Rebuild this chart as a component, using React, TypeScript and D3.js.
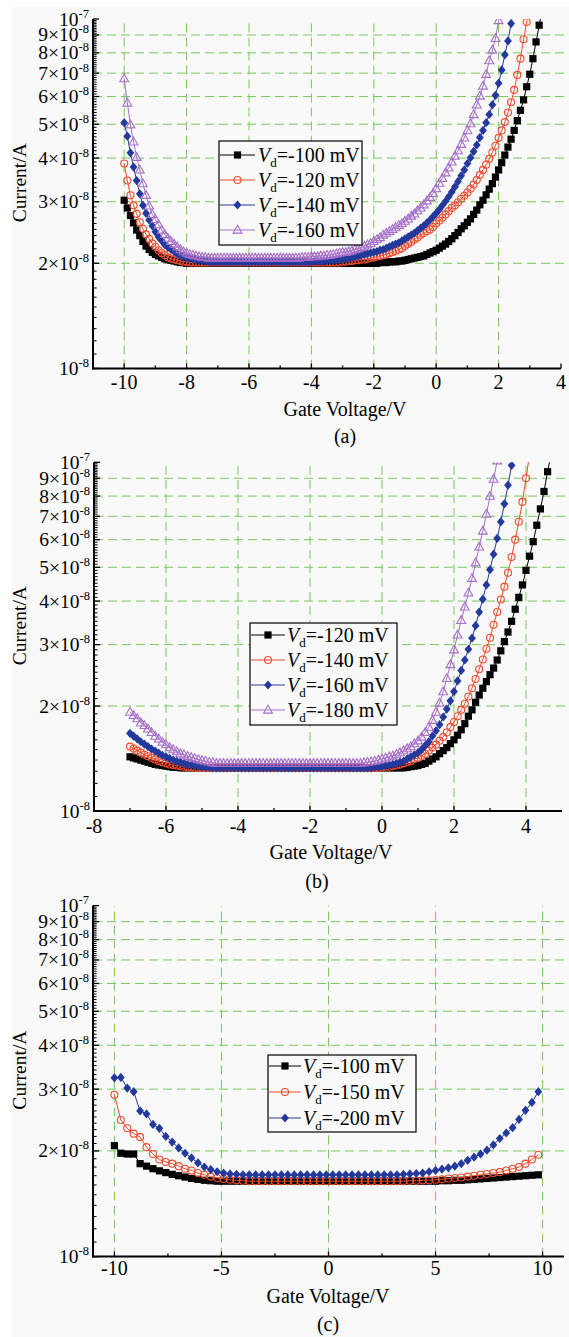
import React from 'react'
import * as d3 from 'd3'

// gate sweeps (V): first point and step of each measurement
const sweepA = { start: -10, step: 0.1 }
const sweepB = { start: -7, step: 0.1 }
const sweepC = { start: -10, step: 0.3 }

// drain current, in units of 1e-8 A
// (a) Vd = -100 / -120 / -140 / -160 mV
const curA100 = [
  3.03, 2.88, 2.74, 2.61, 2.49, 2.40, 2.31, 2.24, 2.19, 2.15,
  2.12, 2.10, 2.08, 2.06, 2.05, 2.04, 2.03, 2.02, 2.01, 2.01,
  2, 2, 2, 2, 2, 2, 2, 2, 2, 2,
  2, 2, 2, 2, 2, 2, 2, 2, 2, 2,
  2, 2, 2, 2, 2, 2, 2, 2, 2, 2,
  2, 2, 2, 2, 2, 2, 2, 2, 2, 2,
  2, 2, 2, 2, 2, 2, 2, 2, 2, 2,
  2, 2, 2, 2, 2, 2, 2, 2, 2, 2,
  2.00, 2.00, 2.01, 2.01, 2.01, 2.02, 2.02, 2.02, 2.03, 2.03,
  2.04, 2.05, 2.06, 2.07, 2.08, 2.09, 2.10, 2.12, 2.14, 2.16,
  2.18, 2.21, 2.24, 2.27, 2.31, 2.35, 2.40, 2.45, 2.51, 2.56,
  2.62, 2.68, 2.76, 2.84, 2.94, 3.03, 3.14, 3.26, 3.38, 3.53,
  3.70, 3.88, 4.08, 4.30, 4.53, 4.80, 5.12, 5.48, 5.87, 6.40,
  6.95, 7.70, 8.60, 9.60, 10.7,
]
const curA120 = [
  3.86, 3.45, 3.13, 2.93, 2.77, 2.62, 2.51, 2.42, 2.35, 2.28,
  2.23, 2.18, 2.14, 2.11, 2.08, 2.06, 2.05, 2.04, 2.03, 2.02,
  2.02, 2.01, 2.01, 2.01, 2.01, 2.01, 2.01, 2.01, 2.01, 2.01,
  2.01, 2.01, 2.01, 2.01, 2.01, 2.01, 2.01, 2.01, 2.01, 2.01,
  2.01, 2.01, 2.01, 2.01, 2.01, 2.01, 2.01, 2.01, 2.01, 2.01,
  2.01, 2.01, 2.01, 2.01, 2.01, 2.01, 2.01, 2.01, 2.01, 2.01,
  2.01, 2.01, 2.01, 2.01, 2.01, 2.01, 2.01, 2.01, 2.01, 2.01,
  2.02, 2.02, 2.03, 2.03, 2.04, 2.04, 2.05, 2.05, 2.06, 2.07,
  2.08, 2.09, 2.10, 2.11, 2.12, 2.14, 2.15, 2.17, 2.19, 2.21,
  2.24, 2.27, 2.30, 2.34, 2.37, 2.41, 2.44, 2.47, 2.50, 2.54,
  2.60, 2.65, 2.70, 2.76, 2.82, 2.88, 2.93, 2.99, 3.06, 3.12,
  3.19, 3.27, 3.36, 3.46, 3.58, 3.70, 3.83, 3.98, 4.15, 4.34,
  4.57, 4.80, 5.07, 5.40, 5.78, 6.27, 6.92, 7.70, 8.75, 9.80,
  11.0,
]
const curA140 = [
  5.05, 4.62, 4.14, 3.77, 3.45, 3.16, 2.93, 2.78, 2.66, 2.56,
  2.46, 2.38, 2.32, 2.26, 2.22, 2.19, 2.16, 2.13, 2.11, 2.09,
  2.08, 2.07, 2.06, 2.05, 2.04, 2.04, 2.03, 2.03, 2.02, 2.02,
  2.02, 2.02, 2.02, 2.02, 2.02, 2.02, 2.02, 2.02, 2.02, 2.02,
  2.02, 2.02, 2.02, 2.02, 2.02, 2.02, 2.02, 2.02, 2.02, 2.02,
  2.02, 2.02, 2.02, 2.02, 2.02, 2.02, 2.02, 2.02, 2.02, 2.02,
  2.02, 2.03, 2.03, 2.03, 2.03, 2.04, 2.04, 2.04, 2.05, 2.05,
  2.06, 2.06, 2.07, 2.08, 2.09, 2.10, 2.11, 2.12, 2.13, 2.14,
  2.15, 2.16, 2.18, 2.19, 2.21, 2.23, 2.25, 2.27, 2.29, 2.32,
  2.35, 2.38, 2.41, 2.44, 2.48, 2.52, 2.56, 2.61, 2.66, 2.72,
  2.78, 2.85, 2.93, 3.01, 3.10, 3.20, 3.31, 3.43, 3.56, 3.70,
  3.86, 4.01, 4.18, 4.36, 4.58, 4.80, 5.05, 5.33, 5.68, 6.05,
  6.55, 7.15, 7.90, 8.65, 9.70, 10.8,
]
const curA160 = [
  6.75, 5.75, 4.98, 4.45, 4.02, 3.70, 3.38, 3.13, 2.92, 2.76,
  2.67, 2.58, 2.49, 2.42, 2.36, 2.31, 2.27, 2.23, 2.19, 2.16,
  2.14, 2.12, 2.11, 2.10, 2.09, 2.08, 2.08, 2.07, 2.07, 2.07,
  2.07, 2.07, 2.07, 2.07, 2.07, 2.07, 2.07, 2.07, 2.07, 2.07,
  2.07, 2.07, 2.07, 2.07, 2.07, 2.07, 2.07, 2.07, 2.07, 2.07,
  2.07, 2.07, 2.07, 2.07, 2.07, 2.07, 2.07, 2.08, 2.08, 2.08,
  2.09, 2.09, 2.09, 2.10, 2.10, 2.11, 2.11, 2.12, 2.13, 2.14,
  2.15, 2.15, 2.16, 2.17, 2.19, 2.20, 2.22, 2.24, 2.26, 2.28,
  2.31, 2.34, 2.37, 2.41, 2.44, 2.47, 2.50, 2.53, 2.57, 2.60,
  2.64, 2.68, 2.73, 2.77, 2.83, 2.88, 2.94, 3.02, 3.09, 3.17,
  3.27, 3.39, 3.50, 3.63, 3.75, 3.90, 4.05, 4.20, 4.38, 4.57,
  4.79, 5.02, 5.33, 5.68, 6.02, 6.43, 6.95, 7.60, 8.15, 8.80,
  9.90, 10.9,
]

// (b) Vd = -120 / -140 / -160 / -180 mV
const curB120 = [
  1.43, 1.42, 1.41, 1.40, 1.39, 1.38, 1.37, 1.36, 1.355, 1.35,
  1.345, 1.34, 1.335, 1.335, 1.33, 1.33, 1.33, 1.33, 1.33, 1.33,
  1.33, 1.33, 1.33, 1.33, 1.33, 1.33, 1.33, 1.33, 1.33, 1.33,
  1.33, 1.33, 1.33, 1.33, 1.33, 1.33, 1.33, 1.33, 1.33, 1.33,
  1.33, 1.33, 1.33, 1.33, 1.33, 1.33, 1.33, 1.33, 1.33, 1.33,
  1.33, 1.33, 1.33, 1.33, 1.33, 1.33, 1.33, 1.33, 1.33, 1.33,
  1.33, 1.33, 1.33, 1.33, 1.33, 1.33, 1.33, 1.33, 1.33, 1.33,
  1.33, 1.33, 1.33, 1.33, 1.33, 1.33, 1.33, 1.335, 1.34, 1.345,
  1.35, 1.36, 1.37, 1.39, 1.41, 1.43, 1.46, 1.49, 1.52, 1.56,
  1.60, 1.65, 1.71, 1.78, 1.87, 1.95, 2.05, 2.15, 2.25, 2.35,
  2.46, 2.57, 2.71, 2.88, 3.06, 3.26, 3.50, 3.79, 4.10, 4.45,
  4.90, 5.38, 5.92, 6.60, 7.35, 8.25, 9.40, 10.6,
]
const curB140 = [
  1.53, 1.51, 1.49, 1.47, 1.45, 1.435, 1.42, 1.405, 1.39, 1.38,
  1.37, 1.36, 1.355, 1.35, 1.345, 1.34, 1.335, 1.335, 1.33, 1.33,
  1.33, 1.33, 1.33, 1.33, 1.33, 1.33, 1.33, 1.33, 1.33, 1.33,
  1.33, 1.33, 1.33, 1.33, 1.33, 1.33, 1.33, 1.33, 1.33, 1.33,
  1.33, 1.33, 1.33, 1.33, 1.33, 1.33, 1.33, 1.33, 1.33, 1.33,
  1.33, 1.33, 1.33, 1.33, 1.33, 1.33, 1.33, 1.33, 1.33, 1.33,
  1.33, 1.33, 1.33, 1.33, 1.33, 1.33, 1.33, 1.33, 1.33, 1.33,
  1.335, 1.34, 1.34, 1.345, 1.35, 1.36, 1.37, 1.38, 1.39, 1.41,
  1.42, 1.44, 1.46, 1.49, 1.52, 1.55, 1.59, 1.63, 1.68, 1.74,
  1.80, 1.87, 1.95, 2.03, 2.13, 2.25, 2.39, 2.55, 2.72, 2.92,
  3.14, 3.42, 3.72, 4.04, 4.40, 4.82, 5.35, 6.00, 6.75, 7.70,
  9.00, 10.5,
]
const curB160 = [
  1.67, 1.64, 1.61, 1.58, 1.555, 1.53, 1.505, 1.485, 1.465, 1.445,
  1.43, 1.415, 1.40, 1.39, 1.38, 1.37, 1.36, 1.355, 1.35, 1.345,
  1.34, 1.335, 1.335, 1.33, 1.33, 1.33, 1.33, 1.33, 1.33, 1.33,
  1.33, 1.33, 1.33, 1.33, 1.33, 1.33, 1.33, 1.33, 1.33, 1.33,
  1.33, 1.33, 1.33, 1.33, 1.33, 1.33, 1.33, 1.33, 1.33, 1.33,
  1.33, 1.33, 1.33, 1.33, 1.33, 1.33, 1.33, 1.33, 1.33, 1.33,
  1.33, 1.33, 1.33, 1.33, 1.33, 1.33, 1.33, 1.33, 1.335, 1.34,
  1.345, 1.35, 1.355, 1.36, 1.37, 1.38, 1.39, 1.41, 1.43, 1.45,
  1.47, 1.50, 1.54, 1.58, 1.64, 1.70, 1.77, 1.86, 1.96, 2.07,
  2.20, 2.36, 2.53, 2.71, 2.91, 3.13, 3.40, 3.72, 4.05, 4.45,
  4.92, 5.45, 6.05, 6.75, 7.60, 8.60, 9.80, 11.0,
]
const curB180 = [
  1.92, 1.88, 1.84, 1.79, 1.76, 1.72, 1.68, 1.64, 1.61, 1.575,
  1.55, 1.52, 1.50, 1.48, 1.46, 1.45, 1.435, 1.425, 1.415, 1.405,
  1.395, 1.39, 1.38, 1.375, 1.37, 1.37, 1.37, 1.37, 1.37, 1.37,
  1.37, 1.37, 1.37, 1.37, 1.37, 1.37, 1.37, 1.37, 1.37, 1.37,
  1.37, 1.37, 1.37, 1.37, 1.37, 1.37, 1.37, 1.37, 1.37, 1.37,
  1.37, 1.37, 1.37, 1.37, 1.37, 1.37, 1.37, 1.37, 1.37, 1.37,
  1.37, 1.37, 1.37, 1.37, 1.37, 1.375, 1.38, 1.385, 1.39, 1.40,
  1.41, 1.42, 1.43, 1.44, 1.455, 1.47, 1.49, 1.51, 1.53, 1.56,
  1.59, 1.63, 1.68, 1.74, 1.82, 1.92, 2.04, 2.20, 2.40, 2.63,
  2.90, 3.20, 3.52, 3.85, 4.22, 4.65, 5.15, 5.72, 6.35, 7.10,
  8.00, 8.95, 10.1, 11.3,
]

// (c) Vd = -100 / -150 / -200 mV
const curC100 = [
  2.07, 1.97, 1.96, 1.96, 1.84, 1.81, 1.78, 1.755, 1.735, 1.715,
  1.70, 1.685, 1.67, 1.66, 1.65, 1.645, 1.64, 1.64, 1.64, 1.64,
  1.64, 1.64, 1.64, 1.64, 1.64, 1.64, 1.64, 1.64, 1.64, 1.64,
  1.64, 1.64, 1.64, 1.64, 1.64, 1.64, 1.64, 1.64, 1.64, 1.64,
  1.64, 1.64, 1.64, 1.64, 1.64, 1.64, 1.64, 1.64, 1.64, 1.64,
  1.64, 1.645, 1.645, 1.65, 1.65, 1.655, 1.66, 1.665, 1.67, 1.675,
  1.68, 1.685, 1.69, 1.695, 1.70, 1.705, 1.71,
]
const curC150 = [
  2.89, 2.45, 2.32, 2.24, 2.19, 2.05, 1.96, 1.89, 1.86, 1.84,
  1.81, 1.78, 1.76, 1.73, 1.71, 1.69, 1.675, 1.665, 1.655, 1.65,
  1.645, 1.64, 1.64, 1.64, 1.64, 1.64, 1.64, 1.64, 1.64, 1.64,
  1.64, 1.64, 1.64, 1.64, 1.64, 1.64, 1.64, 1.64, 1.64, 1.64,
  1.64, 1.64, 1.64, 1.64, 1.64, 1.64, 1.645, 1.645, 1.65, 1.65,
  1.655, 1.66, 1.67, 1.675, 1.68, 1.69, 1.70, 1.71, 1.72, 1.73,
  1.74, 1.76, 1.78, 1.80, 1.84, 1.89, 1.95,
]
const curC200 = [
  3.23, 3.24, 3.02, 2.95, 2.60, 2.55, 2.38, 2.32, 2.20, 2.12,
  2.04, 1.97, 1.91, 1.85, 1.80, 1.77, 1.745, 1.73, 1.72, 1.715,
  1.71, 1.71, 1.71, 1.71, 1.71, 1.71, 1.71, 1.71, 1.71, 1.71,
  1.71, 1.71, 1.71, 1.71, 1.71, 1.71, 1.71, 1.71, 1.71, 1.71,
  1.71, 1.71, 1.71, 1.71, 1.71, 1.715, 1.72, 1.725, 1.73, 1.745,
  1.76, 1.775, 1.79, 1.81, 1.84, 1.88, 1.92, 1.96, 2.01, 2.08,
  2.17, 2.25, 2.33, 2.46, 2.61, 2.75, 2.95,
]

const legendA = ['-100', '-120', '-140', '-160']
const legendB = ['-120', '-140', '-160', '-180']
const legendC = ['-100', '-150', '-200']

const xTicksA = [-10, -8, -6, -4, -2, 0, 2, 4]
const xMinorA = [-9, -7, -5, -3, -1, 1, 3]
const xTicksB = [-8, -6, -4, -2, 0, 2, 4]
const xMinorB = [-7, -5, -3, -1, 1, 3]
const xTicksC = [-10, -5, 0, 5, 10]
const xMinorC = [-7.5, -2.5, 2.5, 7.5]

// y axis (×1e-8 A), labelled at 1..10
const yTicks = [1, 2, 3, 4, 5, 6, 7, 8, 9, 10]
const yMinor = d3.range(11, 100).filter((v) => v % 10 !== 0).map((v) => v / 10)

type Shape = 'square' | 'circle' | 'diamond' | 'triangle'
const colors = ['#000000', '#f04b2d', '#24399c', '#a66ec9']
const shapes: Shape[] = ['square', 'circle', 'diamond', 'triangle']

const FONT = '"Liberation Serif", "Times New Roman", serif'
const GRID = '#76c95b'
const BG = '#f9f9f9'

interface Layout {
  id: string
  left: number
  right: number
  top: number
  bottom: number
  domain: [number, number]
  ticks: number[]
  minor: number[]
  sweep: { start: number; step: number }
  series: number[][]
  labels: string[]
  tickY: number
  titleX: number
  titleY: number
  tag: string
  tagX: number
  tagY: number
  legend: { x: number; y: number; w: number; h: number; rows: number[]; line: [number, number]; textX: number }
}

const panels: Layout[] = [
  {
    id: 'a', left: 93, right: 561, top: 19, bottom: 368.5, domain: [-11, 4],
    ticks: xTicksA, minor: xMinorA, sweep: sweepA,
    series: [curA100, curA120, curA140, curA160], labels: legendA,
    tickY: 389, titleX: 345, titleY: 416, tag: '(a)', tagX: 345, tagY: 443,
    legend: { x: 219, y: 141, w: 143, h: 104, rows: [155, 180, 205, 230], line: [220, 255], textX: 258 },
  },
  {
    id: 'b', left: 94, right: 562, top: 462.3, bottom: 811, domain: [-8, 5],
    ticks: xTicksB, minor: xMinorB, sweep: sweepB,
    series: [curB120, curB140, curB160, curB180], labels: legendB,
    tickY: 833, titleX: 331, titleY: 859, tag: '(b)', tagX: 317, tagY: 888,
    legend: { x: 250, y: 623, w: 147, h: 102, rows: [635, 660, 685, 710], line: [251, 285], textX: 287 },
  },
  {
    id: 'c', left: 93, right: 564, top: 905.6, bottom: 1256.6, domain: [-11, 11],
    ticks: xTicksC, minor: xMinorC, sweep: sweepC,
    series: [curC100, curC150, curC200], labels: legendC,
    tickY: 1275, titleX: 328, titleY: 1303, tag: '(c)', tagX: 328, tagY: 1331,
    legend: { x: 268, y: 1055, w: 148, h: 77, rows: [1066, 1092, 1118], line: [269, 301], textX: 303 },
  },
]

function Marker({ shape, color, cx, cy }: { shape: Shape; color: string; cx: number; cy: number }) {
  if (shape === 'square') return <rect x={cx - 3.6} y={cy - 3.6} width={7.2} height={7.2} fill={color} />
  if (shape === 'circle') return <circle cx={cx} cy={cy} r={3.5} fill="none" stroke={color} strokeWidth={1.1} />
  if (shape === 'diamond')
    return <path d={`M${cx},${cy - 4.6}L${cx + 3.9},${cy}L${cx},${cy + 4.6}L${cx - 3.9},${cy}Z`} fill={color} />
  return (
    <path d={`M${cx},${cy - 4.7}L${cx + 4.4},${cy + 3.1}L${cx - 4.4},${cy + 3.1}Z`} fill="none" stroke={color} strokeWidth={1.1} />
  )
}

function YLabel({ v, x, y }: { v: number; x: number; y: number }) {
  const exp = v === 10 ? '-7' : '-8'
  const mant = v === 1 || v === 10 ? '10' : `${v}×10`
  return (
    <text x={x} y={y + 6.5} textAnchor="end" fontSize={19.5}>
      {mant}
      <tspan fontSize={12.5} dy={-8}>
        {exp}
      </tspan>
    </text>
  )
}

function Panel({ p }: { p: Layout }) {
  const x = d3.scaleLinear().domain(p.domain).range([p.left, p.right])
  const y = d3.scaleLog().domain([1, 10]).range([p.bottom, p.top])
  const line = d3
    .line<[number, number]>()
    .x((d) => x(d[0]))
    .y((d) => y(d[1]))
  const data = p.series.map((vals) => vals.map((v, i) => [p.sweep.start + i * p.sweep.step, v] as [number, number]))
  const clipId = `clip-${p.id}`
  const lg = p.legend

  return (
    <g>
      <defs>
        <clipPath id={clipId}>
          <rect x={p.left} y={p.top} width={p.right - p.left + 4} height={p.bottom - p.top} />
        </clipPath>
      </defs>

      {/* grid */}
      <g stroke={GRID} strokeWidth={1} strokeDasharray="9,5">
        {yTicks
          .filter((v) => v > 1 && v < 10)
          .map((v) => (
            <line key={`h${v}`} x1={p.left} x2={p.right + 5} y1={y(v)} y2={y(v)} />
          ))}
        {p.ticks
          .filter((t) => x(t) > p.left + 1 && x(t) < p.right - 1)
          .map((t) => (
            <line key={`v${t}`} x1={x(t)} x2={x(t)} y1={p.bottom} y2={p.top} />
          ))}
      </g>

      {/* axes */}
      <g stroke="#000">
        <line x1={p.left} x2={p.left} y1={p.bottom + 1} y2={p.top} strokeWidth={2} />
        <line x1={p.left - 1} x2={p.right} y1={p.bottom} y2={p.bottom} strokeWidth={2} />
        {yTicks.map((v) => (
          <line key={`yt${v}`} x1={p.left} x2={p.left + 6} y1={y(v)} y2={y(v)} strokeWidth={1.3} />
        ))}
        {yMinor.map((v) => (
          <line key={`ym${v}`} x1={p.left} x2={p.left + 3.6} y1={y(v)} y2={y(v)} strokeWidth={1} />
        ))}
        {p.ticks.map((t) => (
          <line key={`xt${t}`} x1={x(t)} x2={x(t)} y1={p.bottom} y2={p.bottom - 5} strokeWidth={1.3} />
        ))}
        {p.minor.map((t) => (
          <line key={`xm${t}`} x1={x(t)} x2={x(t)} y1={p.bottom} y2={p.bottom - 3} strokeWidth={1.3} />
        ))}
      </g>

      {/* tick labels */}
      <g fontFamily={FONT} fill="#000">
        {yTicks.map((v) => (
          <YLabel key={`yl${v}`} v={v} x={p.left - 4} y={y(v)} />
        ))}
        {p.ticks.map((t) => (
          <text key={`xl${t}`} x={x(t)} y={p.tickY} textAnchor="middle" fontSize={20}>
            {t}
          </text>
        ))}
        <text x={p.titleX} y={p.titleY} textAnchor="middle" fontSize={20}>
          Gate Voltage/V
        </text>
        <text x={p.tagX} y={p.tagY} textAnchor="middle" fontSize={20}>
          {p.tag}
        </text>
        <text
          transform={`translate(19, ${(p.top + p.bottom) / 2 - 11}) rotate(-90)`}
          textAnchor="middle"
          dominantBaseline="central"
          fontSize={19.5}
        >
          Current/A
        </text>
      </g>

      {/* series */}
      <g clipPath={`url(#${clipId})`}>
        {data.map((pts, si) => (
          <g key={`s${si}`}>
            <path d={line(pts) ?? ''} fill="none" stroke={colors[si]} strokeWidth={1} />
            {pts.map((d, i) => (
              <Marker key={i} shape={shapes[si]} color={colors[si]} cx={x(d[0])} cy={y(d[1])} />
            ))}
          </g>
        ))}
      </g>

      {/* legend */}
      <g>
        <rect x={lg.x} y={lg.y} width={lg.w} height={lg.h} fill={BG} stroke="#000" strokeWidth={1.2} />
        {p.labels.map((lab, i) => {
          const ry = lg.rows[i]
          return (
            <g key={`lg${i}`}>
              <line x1={lg.line[0]} x2={lg.line[1]} y1={ry} y2={ry} stroke={colors[i]} strokeWidth={1} />
              <Marker shape={shapes[i]} color={colors[i]} cx={(lg.line[0] + lg.line[1]) / 2} cy={ry} />
              <text x={lg.textX} y={ry + 7} fontFamily={FONT} fontSize={20} fill="#000">
                <tspan fontStyle="italic">V</tspan>
                <tspan fontSize={13} dy={5}>
                  d
                </tspan>
                <tspan dy={-5}>{`=${lab} mV`}</tspan>
              </text>
            </g>
          )
        })}
      </g>
    </g>
  )
}

export default function App() {
  return (
    <svg
      width={569}
      height={1337}
      viewBox="0 0 569 1337"
      style={{ position: 'absolute', left: 0, top: 0, background: '#fff' }}
    >
      <rect x={12} y={7} width={557} height={1330} fill={BG} />
      {panels.map((p) => (
        <Panel key={p.id} p={p} />
      ))}
    </svg>
  )
}
